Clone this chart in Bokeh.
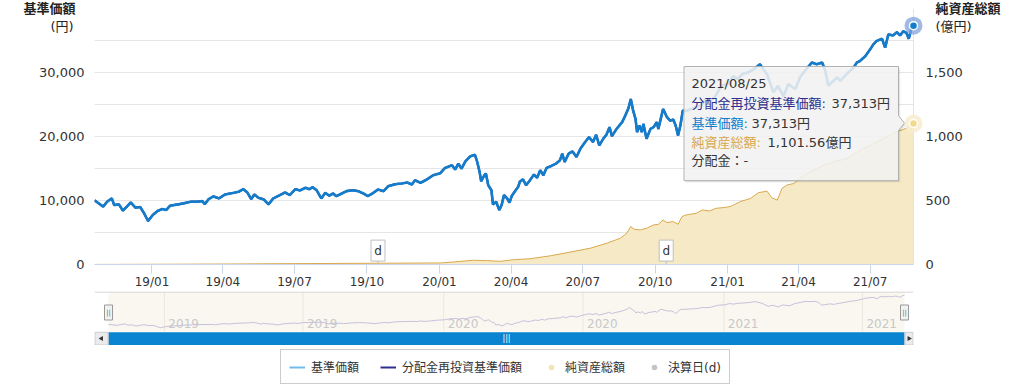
import math
from datetime import datetime
from bokeh.plotting import figure
from bokeh.models import (Range1d, LinearAxis, FixedTicker, NumeralTickFormatter,
                          DatetimeTickFormatter, MonthsTicker, Span, Legend,
                          LegendItem, Grid)
from bokeh.layouts import column
from bokeh.core.properties import value
from bokeh.embed import file_html
from bokeh.resources import INLINE

# ---------------- data ----------------
nav_dates = [
    "2018-10-20", "2018-10-31", "2018-11-05", "2018-11-11", "2018-11-14", "2018-11-20", "2018-11-25",
    "2018-11-30", "2018-12-05", "2018-12-11", "2018-12-17", "2018-12-22", "2018-12-27", "2019-01-02",
    "2019-01-08", "2019-01-14", "2019-01-19", "2019-01-24", "2019-02-03", "2019-02-10", "2019-02-19",
    "2019-02-27", "2019-03-06", "2019-03-09", "2019-03-14", "2019-03-20", "2019-03-27", "2019-04-04",
    "2019-04-15", "2019-04-21", "2019-04-27", "2019-05-02", "2019-05-07", "2019-05-11", "2019-05-16",
    "2019-05-23", "2019-05-29", "2019-06-04", "2019-06-11", "2019-06-19", "2019-06-25", "2019-07-02",
    "2019-07-08", "2019-07-15", "2019-07-20", "2019-07-24", "2019-07-29", "2019-08-04", "2019-08-09",
    "2019-08-14", "2019-08-19", "2019-08-23", "2019-08-30", "2019-09-05", "2019-09-13", "2019-09-20",
    "2019-09-27", "2019-10-02", "2019-10-08", "2019-10-15", "2019-10-22", "2019-10-28", "2019-11-06",
    "2019-11-14", "2019-11-21", "2019-11-27", "2019-12-01", "2019-12-08", "2019-12-16", "2019-12-24",
    "2020-01-02", "2020-01-08", "2020-01-17", "2020-01-21", "2020-01-25", "2020-01-29", "2020-02-03",
    "2020-02-09", "2020-02-15", "2020-02-18", "2020-02-21", "2020-02-23", "2020-02-27", "2020-02-29",
    "2020-03-03", "2020-03-07", "2020-03-09", "2020-03-13", "2020-03-17", "2020-03-20", "2020-03-23",
    "2020-03-27", "2020-03-30", "2020-04-02", "2020-04-06", "2020-04-10", "2020-04-12", "2020-04-16",
    "2020-04-20", "2020-04-25", "2020-04-30", "2020-05-04", "2020-05-08", "2020-05-12", "2020-05-16",
    "2020-05-22", "2020-05-28", "2020-06-02", "2020-06-05", "2020-06-08", "2020-06-13", "2020-06-18",
    "2020-06-23", "2020-06-28", "2020-07-04", "2020-07-09", "2020-07-14", "2020-07-18", "2020-07-22",
    "2020-07-27", "2020-07-31", "2020-08-04", "2020-08-07", "2020-08-13", "2020-08-20", "2020-08-24",
    "2020-08-28", "2020-08-31", "2020-09-03", "2020-09-06", "2020-09-08", "2020-09-11", "2020-09-14",
    "2020-09-16", "2020-09-20", "2020-09-25", "2020-09-29", "2020-10-03", "2020-10-05", "2020-10-11",
    "2020-10-16", "2020-10-20", "2020-10-24", "2020-10-27", "2020-10-30", "2020-11-02", "2020-11-05",
    "2020-11-10", "2020-11-15", "2020-11-23", "2020-11-28", "2020-12-04", "2020-12-10", "2020-12-16",
    "2020-12-20", "2020-12-25", "2021-01-02", "2021-01-08", "2021-01-14", "2021-01-20", "2021-01-27",
    "2021-02-03", "2021-02-11", "2021-02-20", "2021-02-28", "2021-03-06", "2021-03-13", "2021-03-19",
    "2021-03-28", "2021-04-03", "2021-04-12", "2021-04-18", "2021-04-24", "2021-05-01", "2021-05-05",
    "2021-05-09", "2021-05-13", "2021-05-20", "2021-05-24", "2021-06-01", "2021-06-10", "2021-06-14",
    "2021-06-18", "2021-06-25", "2021-07-01", "2021-07-05", "2021-07-09", "2021-07-16", "2021-07-20",
    "2021-07-24", "2021-07-30", "2021-08-04", "2021-08-08", "2021-08-12", "2021-08-16", "2021-08-19",
    "2021-08-22", "2021-08-25",
]
nav_values = [
    10030, 9040, 9810, 10330, 9290, 9390, 8420,
    9040, 9700, 8880, 8980, 8000, 6800, 7730,
    8350, 8670, 8510, 9190, 9390, 9550, 9810,
    9810, 9910, 9440, 10220, 10640, 10330, 10950,
    11210, 11370, 11770, 11260, 10220, 10950, 10430,
    10170, 9390, 10330, 10750, 11260, 10840, 11770,
    11570, 11990, 11770, 12080, 11610, 10330, 11210,
    10750, 11100, 10680, 11100, 11460, 11610, 11460,
    11060, 10680, 11100, 11720, 11460, 12240, 12550,
    12660, 12810, 12500, 13170, 12760, 13280, 13940,
    14250, 15090, 15500, 14830, 15760, 14980, 16120,
    16890, 17160, 16020, 14470, 13010, 13940, 14210,
    12390, 11610, 9390, 9810, 8510, 9290, 10840,
    10330, 9660, 10750, 11460, 12140, 12920, 13320,
    12390, 13170, 14050, 13540, 14720, 13940, 15090,
    15400, 15760, 16270, 17310, 16020, 17310, 17670,
    16800, 18090, 19130, 19910, 19130, 20260, 18600,
    19640, 20260, 21460, 20060, 21190, 22240, 23260,
    24410, 25850, 24040, 22750, 20680, 21710, 20680,
    21970, 19640, 21190, 21460, 22240, 21190, 24300,
    23010, 22480, 22640, 21710, 20160, 21710, 24040,
    24000, 24300, 24560, 24900, 25800, 25590, 26200,
    27100, 27920, 28300, 29400, 29000, 29800, 30000,
    30500, 31290, 29700, 26900, 27900, 26300, 28200,
    27400, 29300, 30700, 31550, 31290, 31550, 30250,
    27920, 28450, 29220, 28700, 29740, 30780, 31550,
    31800, 32580, 33620, 34390, 34910, 35270, 33880,
    35950, 35790, 36300, 35790, 36450, 36200, 35270,
    36710, 37313,
]
aum_dates = [
    "2018-10-20", "2019-01-15", "2019-04-10", "2019-07-08", "2019-10-17", "2020-01-02", "2020-01-19",
    "2020-02-13", "2020-03-02", "2020-03-18", "2020-04-04", "2020-04-25", "2020-05-21", "2020-06-15",
    "2020-07-11", "2020-08-01", "2020-08-18", "2020-08-26", "2020-08-31", "2020-09-04", "2020-09-12",
    "2020-09-20", "2020-09-29", "2020-10-05", "2020-10-11", "2020-10-16", "2020-10-24", "2020-10-30",
    "2020-11-04", "2020-11-09", "2020-11-22", "2020-11-30", "2020-12-09", "2020-12-17", "2020-12-26",
    "2021-01-04", "2021-01-17", "2021-01-30", "2021-02-09", "2021-02-20", "2021-02-26", "2021-03-05",
    "2021-03-11", "2021-03-17", "2021-03-26", "2021-04-03", "2021-04-16", "2021-05-03", "2021-05-15",
    "2021-06-01", "2021-06-18", "2021-07-05", "2021-07-22", "2021-08-04", "2021-08-12", "2021-08-19",
    "2021-08-22", "2021-08-25",
]
aum_values = [
    0.5, 2, 4, 7, 10, 12, 20,
    33, 30, 25, 37, 45, 68, 97,
    128, 167, 206, 245, 297, 276, 270,
    283, 309, 314, 348, 328, 335, 314,
    374, 387, 400, 426, 418, 439, 444,
    452, 491, 516, 561, 573, 522, 503,
    594, 620, 633, 672, 724, 775, 801,
    827, 891, 943, 995, 1039, 1054, 1073,
    1047, 1101.56,
]
settle_dates = ["2019-10-15", "2020-10-15"]
settle_marks = ["d", "d"]
nav_axis_ticks = [0, 10000, 20000, 30000]
nav_grid_ticks = [0, 10000, 20000, 30000, 40000]
aum_axis_ticks = [0, 500, 1000, 1500]
navigator_ticks = ["2019-01-01", "2019-07-01", "2020-01-01", "2020-07-01", "2021-01-01", "2021-07-01"]
navigator_labels = ["2019", "2019", "2020", "2020", "2021", "2021"]
tip_date = "2021/08/25"
tip_labels = ["分配金再投資基準価額:", "基準価額:", "純資産総額:"]
tip_values = ["37,313円", "37,313円", "1,101.56億円"]
tip_last = "分配金：-"
legend_labels = ["基準価額", "分配金再投資基準価額", "純資産総額", "決算日(d)"]
axis_titles = ["基準価額", "(円)", "純資産総額", "(億円)"]

# ---------------- styles ----------------
FONT = "DejaVu Sans, Noto Sans CJK JP"
BLUE = "#137dcc"
NAVY = "#2d2f8e"
LIGHT_BLUE = "#72bbe8"
AREA_FILL = "#f6eac6"
AREA_LINE = "#d9a84e"
TXT = "#333333"


def to_dt(s):
    return datetime.strptime(s, "%Y-%m-%d")


def ms(d):
    return (d - datetime(1970, 1, 1)).total_seconds() * 1000.0


nav_x = [to_dt(s) for s in nav_dates]
aum_x = [to_dt(s) for s in aum_dates]
settle_x = [to_dt(s) for s in settle_dates]
nt_x = [to_dt(s) for s in navigator_ticks]
X0, X1 = ms(nav_x[0]), ms(nav_x[-1])

# ---------------- main chart ----------------
W, H_MAIN = 1009, 291
FL, FR, FT, FB = 94, 913, 8, 266
Y_MAX, AUM_MAX = 40000, 2000


def mx(px):
    return X0 + (px - FL) * (X1 - X0) / (FR - FL)


def my(py):
    return (FB - py) * Y_MAX / (FB - FT)


p = figure(width=W, height=H_MAIN, x_axis_type="datetime",
           x_range=Range1d(X0, X1), y_range=Range1d(0, Y_MAX),
           min_border_left=FL, min_border_right=W - FR, min_border_top=FT,
           min_border_bottom=H_MAIN - FB, y_axis_location=None,
           output_backend="svg", toolbar_location=None)
p.outline_line_color = None
p.xgrid.visible = False
p.extra_y_ranges = {"aum": Range1d(0, AUM_MAX)}

grid = Grid(dimension=1, ticker=FixedTicker(ticks=nav_grid_ticks),
            grid_line_color="#e6e6e6", grid_line_width=1)
p.add_layout(grid)

ax_l = LinearAxis(ticker=FixedTicker(ticks=nav_axis_ticks), formatter=NumeralTickFormatter(format="0,0"))
ax_r = LinearAxis(y_range_name="aum", ticker=FixedTicker(ticks=aum_axis_ticks),
                  formatter=NumeralTickFormatter(format="0,0"))
for ax, st in ((ax_l, 10), (ax_r, 12)):
    ax.axis_line_color = None
    ax.major_tick_line_color = None
    ax.minor_tick_line_color = None
    ax.major_tick_out = 0
    ax.major_tick_in = 0
    ax.major_label_standoff = st
    ax.major_label_text_font = "DejaVu Sans"
    ax.major_label_text_font_size = "13px"
    ax.major_label_text_color = TXT
p.add_layout(ax_l, "left")
p.add_layout(ax_r, "right")

xa = p.xaxis[0]
xa.ticker = MonthsTicker(months=[0, 3, 6, 9])
xa.formatter = DatetimeTickFormatter(months="%y/%m", years="%y/%m", days="%y/%m",
                                     strip_leading_zeros=False)
xa.axis_line_color = "#ccd6eb"
xa.major_tick_line_color = "#ccd6eb"
xa.minor_tick_line_color = None
xa.major_tick_out = 9
xa.major_tick_in = 0
xa.major_label_standoff = 1
xa.major_label_text_font = "DejaVu Sans"
xa.major_label_text_font_size = "12px"
xa.major_label_text_color = TXT

# series
p.varea(x=aum_x, y1=[0] * len(aum_x), y2=aum_values, y_range_name="aum",
        fill_color=AREA_FILL, fill_alpha=1.0)
p.line(aum_x, aum_values, y_range_name="aum", line_color=AREA_LINE, line_width=1)
p.line(nav_x, nav_values, line_color=NAVY, line_width=2.2)
p.line(nav_x, nav_values, line_color=BLUE, line_width=2.6)

# crosshair at hovered date
p.add_layout(Span(location=X1, dimension="height", line_color="#cccccc", line_width=1))

# settlement flags
p.segment(x0=settle_x, y0=[my(262)] * 2, x1=settle_x, y1=[0] * 2, line_color="#bfbfbf", line_width=1)
p.rect(x=settle_x, y=[my(252)] * 2, width=14, height=21, width_units="screen", height_units="screen",
       fill_color="white", line_color="#bfbfbf", line_width=1)
p.text(x=settle_x, y=[my(252)] * 2, text=settle_marks, text_align="center", text_baseline="middle",
       text_font=value("DejaVu Sans"), text_font_size="12px", text_color=TXT)

# hover markers at the last point (overlay level, so they are not clipped at the frame edge)
p.scatter(x=[nav_x[-1]], y=[nav_values[-1]], size=18, fill_color="#7fa3dc", fill_alpha=0.75,
          line_color=None, level="overlay")
p.scatter(x=[nav_x[-1]], y=[nav_values[-1]], size=8, fill_color=BLUE, line_color="white",
          line_width=1.5, level="overlay")
p.scatter(x=[aum_x[-1]], y=[aum_values[-1]], y_range_name="aum", size=18, fill_color="#f7edd0",
          fill_alpha=0.9, line_color=None, level="overlay")
p.scatter(x=[aum_x[-1]], y=[aum_values[-1]], y_range_name="aum", size=8, fill_color="#f1d98f",
          line_color="white", line_width=1.5, level="overlay")

# tooltip
TL, TR, TT, TB = 683.5, 898.0, 66.5, 181.5
tip_px = [(TL, TT), (TR, TT), (TR, 116.0), (904.0, 123.5), (TR, 131.0), (TR, TB), (TL, TB)]
for off, a in ((2.0, 0.05), (1.0, 0.08)):
    p.patch([mx(x + off) for x, _ in tip_px], [my(y + off) for _, y in tip_px],
            fill_color="black", fill_alpha=a, line_color=None)
p.patch([mx(x) for x, _ in tip_px], [my(y) for _, y in tip_px],
        fill_color="#f7f7f7", fill_alpha=0.85, line_color="#b0b0b0", line_width=1)
TX = 691
rows_y = [103.8, 123.7, 142.8]
label_cols = [NAVY, BLUE, AREA_LINE]
value_off = [140, 60, 76]
p.text(x=[mx(TX)], y=[my(83.7)], text=[tip_date], text_baseline="middle",
       text_font=value(FONT), text_font_size="13px", text_color=TXT)
for lab, val, yy, col, off in zip(tip_labels, tip_values, rows_y, label_cols, value_off):
    p.text(x=[mx(TX)], y=[my(yy)], text=[lab], text_baseline="middle",
           text_font=value(FONT), text_font_size="13px", text_color=col)
    p.text(x=[mx(TX)], y=[my(yy)], text=[val], x_offset=off, text_baseline="middle",
           text_font=value(FONT), text_font_size="13px", text_color=TXT)
p.text(x=[mx(TX)], y=[my(160.8)], text=[tip_last], text_baseline="middle",
       text_font=value(FONT), text_font_size="13px", text_color=TXT)

# axis titles: text glyphs at overlay level (drawn outside the frame), left-anchored
title_pos = [(23, 8, "bold"), (50, 26, "normal"), (935, 8, "bold"), (935, 26, "normal")]
for txt, (xx, yy, style) in zip(axis_titles, title_pos):
    p.text(x=[mx(xx)], y=[my(yy)], text=[txt], text_align="left", text_baseline="middle",
           text_font=value(FONT), text_font_size="13px", text_font_style=style,
           text_color="#222222", level="overlay")

# ---------------- navigator ----------------
NFL, NFR, NT, NB = 94, 913, 291, 345
NL, NR = 108, 904
NAV_TOP_PX, NAV_BOT_PX = 291.3, 331.3
NAV_LO, NAV_HI = 3000, 40500
k = (X1 - X0) / (NR - NL)


def nx(px):
    return X0 + (px - NL) * k


def ny(py):
    return NAV_LO + (NAV_BOT_PX - py) * (NAV_HI - NAV_LO) / (NAV_BOT_PX - NAV_TOP_PX)


nv = figure(width=W, height=NB - NT, x_range=Range1d(nx(NFL), nx(NFR)), y_range=Range1d(ny(NB), ny(NT)),
            min_border_left=NFL, min_border_right=W - NFR, min_border_top=0, min_border_bottom=0,
            x_axis_location=None, y_axis_location=None, output_backend="svg", toolbar_location=None)
nv.outline_line_color = None
nv.grid.visible = False

nv.quad(left=[X0], right=[X1], bottom=[ny(NAV_BOT_PX)], top=[ny(291.5)], fill_color="#faf7f0", line_color=None)
nv.segment(x0=nt_x, y0=[ny(331)] * len(nt_x), x1=nt_x, y1=[ny(291.5)] * len(nt_x),
           line_color="#ece7dd", line_width=1)
nv.text(x=nt_x, y=[ny(322.5)] * len(nt_x), text=navigator_labels, x_offset=4, text_baseline="middle",
        text_font=value("DejaVu Sans"), text_font_size="12px", text_color="#c8c8c8")
nv.line(nav_x, nav_values, line_color="#c6c0da", line_width=1)
nv.segment(x0=[nx(NFL)], y0=[ny(291.5)], x1=[nx(NFR)], y1=[ny(291.5)], line_color="#cccccc", line_width=1)

# scrollbar
nv.quad(left=[nx(NFL)], right=[nx(NFR)], bottom=[ny(345)], top=[ny(331.5)], fill_color="#f2f2f2", line_color=None)
nv.quad(left=[X0], right=[X1], bottom=[ny(345)], top=[ny(331.8)], fill_color="#0a84d0", line_color=None)
nv.quad(left=[nx(94.5), nx(904.5)], right=[nx(107.5), nx(912.5)], bottom=[ny(344.5)] * 2, top=[ny(331.8)] * 2,
        fill_color="#ebebeb", line_color="#cccccc", line_width=1)
nv.scatter(x=[nx(101)], y=[ny(338)], marker="triangle", size=5, angle=math.pi / 2,
           fill_color="#333333", line_color=None)
nv.scatter(x=[nx(908.5)], y=[ny(338)], marker="triangle", size=5, angle=-math.pi / 2,
           fill_color="#333333", line_color=None)
nv.text(x=[(X0 + X1) / 2], y=[ny(338)], text=["|||"], text_align="center", text_baseline="middle",
        text_font=value("DejaVu Sans"), text_font_size="8px", text_color="white")
# handles
nv.rect(x=[X0, X1], y=[ny(312)] * 2, width=8, height=15, width_units="screen", height_units="screen",
        fill_color="#f2f2f2", line_color="#999999", line_width=1)
nv.text(x=[X0, X1], y=[ny(312)] * 2, text=["||", "||"], text_align="center", text_baseline="middle",
        text_font=value("DejaVu Sans"), text_font_size="7px", text_color="#777777")

# ---------------- legend ----------------
lg = figure(width=W, height=40, x_range=Range1d(0, 1), y_range=Range1d(0, 1),
            min_border_left=FL, min_border_right=W - FR, min_border_top=0, min_border_bottom=0,
            x_axis_location=None, y_axis_location=None, output_backend="svg", toolbar_location=None)
lg.outline_line_color = None
lg.grid.visible = False
# swatch renderers, kept outside the visible range
r1 = lg.line([-2, -1], [-2, -2], line_color=LIGHT_BLUE, line_width=2)
r2 = lg.line([-2, -1], [-2, -2], line_color=NAVY, line_width=2)
r3 = lg.scatter([-2], [-2], marker="circle", size=11, fill_color="#f3e4b3", line_color=None)
r4 = lg.scatter([-2], [-2], marker="circle", size=11, fill_color="#c4c4c4", line_color=None)
legend = Legend(items=[LegendItem(label=legend_labels[0], renderers=[r1]),
                       LegendItem(label=legend_labels[1], renderers=[r2]),
                       LegendItem(label=legend_labels[2], renderers=[r3]),
                       LegendItem(label=legend_labels[3], renderers=[r4])],
                orientation="horizontal", location=(280 - FL, 1), margin=0, padding=8, spacing=21,
                glyph_width=16, glyph_height=14, label_height=14, label_standoff=6,
                label_text_font=FONT, label_text_font_size="12px", label_text_color=TXT,
                border_line_color="#999999", border_line_width=1, background_fill_color="white",
                background_fill_alpha=1.0)
lg.add_layout(legend)

layout = column(p, nv, lg)
open("out.html", "w").write(file_html(layout, INLINE))
